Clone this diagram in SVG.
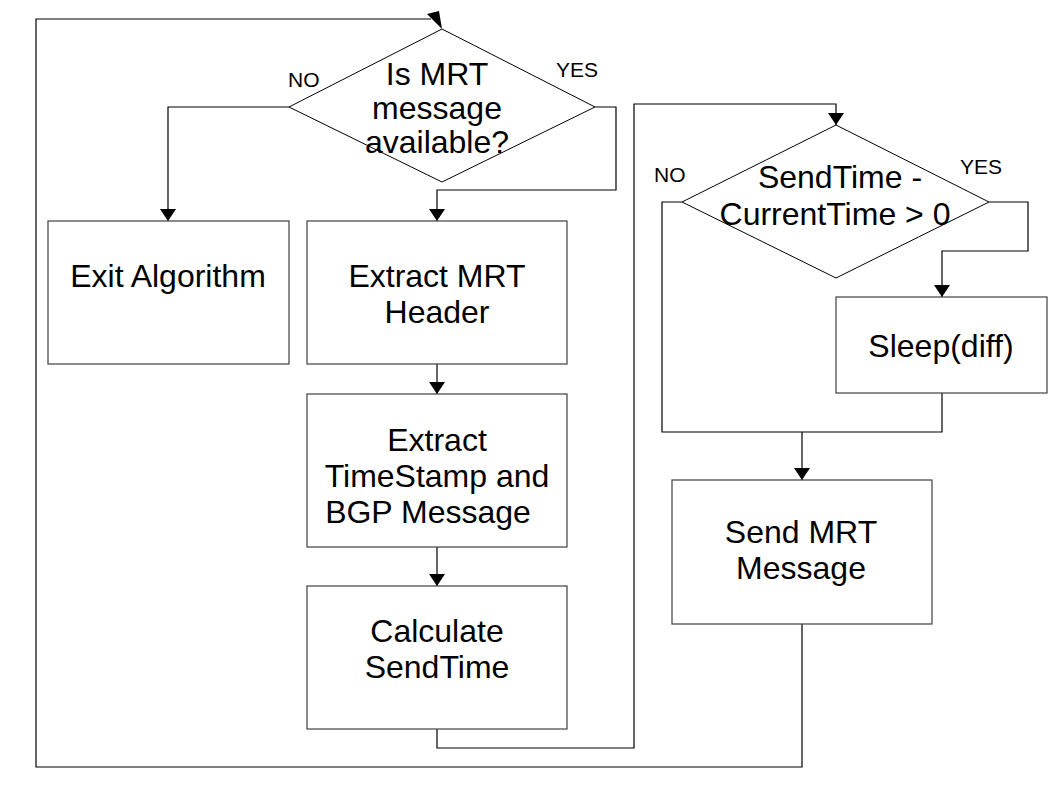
<svg xmlns="http://www.w3.org/2000/svg" width="1058" height="794" viewBox="0 0 1058 794">
<defs>
<style>
.box{fill:#fff;stroke:#404040;stroke-width:1.2}
.dia{fill:#fff;stroke:#000;stroke-width:1}
.ln{fill:none;stroke:#000;stroke-width:1.2}
.t{font-family:"Liberation Sans",Arial,sans-serif;font-size:32px;fill:#000;text-anchor:middle}
.lb{font-family:"Liberation Sans",Arial,sans-serif;font-size:21px;fill:#000}
</style>
<marker id="ah" viewBox="0 0 12 16" refX="12" refY="8" markerWidth="12" markerHeight="16" markerUnits="userSpaceOnUse" orient="auto">
<path d="M0,0 L12,8 L0,16 Z" fill="#000"/>
</marker>
</defs>
<rect width="1058" height="794" fill="#fff"/>
<g id="connectors">
<path class="ln" d="M802,624 V767 H36 V19 H431"/>
<polygon points="427,14 439,11 442,29" fill="#000"/>
<path class="ln" d="M289,107 H168 V221" marker-end="url(#ah)"/>
<path class="ln" d="M595,107 H616 V190 H437 V221" marker-end="url(#ah)"/>
<path class="ln" d="M437,364 V394" marker-end="url(#ah)"/>
<path class="ln" d="M437,547 V586" marker-end="url(#ah)"/>
<path class="ln" d="M437,729 V748 H634 V104 H836 V125" marker-end="url(#ah)"/>
<path class="ln" d="M989,202 H1028 V251 H942 V297" marker-end="url(#ah)"/>
<path class="ln" d="M682,202 H662 V432 H942 V393"/>
<path class="ln" d="M802,432 V480" marker-end="url(#ah)"/>
<text class="lb" x="288" y="87">NO</text>
<text class="lb" x="556" y="77">YES</text>
<text class="lb" x="654" y="182">NO</text>
<text class="lb" x="960" y="174">YES</text>
</g>
<g id="decision1">
<polygon class="dia" points="442,29 595,107 442,182 289,107"/>
<text class="t" x="437" y="85">Is MRT</text>
<text class="t" x="437" y="119">message</text>
<text class="t" x="437" y="153">available?</text>
</g>
<g id="exit">
<rect class="box" x="48" y="221" width="241" height="143"/>
<text class="t" x="168" y="287">Exit Algorithm</text>
</g>
<g id="extractHeader">
<rect class="box" x="307" y="221" width="260" height="143"/>
<text class="t" x="437" y="287">Extract MRT</text>
<text class="t" x="437" y="323">Header</text>
</g>
<g id="extractTimestamp">
<rect class="box" x="307" y="394" width="260" height="153"/>
<text class="t" x="437" y="451">Extract</text>
<text class="t" x="437" y="487">TimeStamp and</text>
<text class="t" x="428" y="523">BGP Message</text>
</g>
<g id="calculate">
<rect class="box" x="307" y="586" width="260" height="143"/>
<text class="t" x="437" y="642">Calculate</text>
<text class="t" x="437" y="678">SendTime</text>
</g>
<g id="decision2">
<polygon class="dia" points="836,125 989,202 836,278 682,202"/>
<text class="t" x="840" y="188">SendTime -</text>
<text class="t" x="835" y="225">CurrentTime &gt; 0</text>
</g>
<g id="sleep">
<rect class="box" x="836" y="297" width="211" height="96"/>
<text class="t" x="941" y="357">Sleep(diff)</text>
</g>
<g id="sendMessage">
<rect class="box" x="672" y="480" width="260" height="144"/>
<text class="t" x="801" y="543">Send MRT</text>
<text class="t" x="801" y="579">Message</text>
</g>
</svg>
